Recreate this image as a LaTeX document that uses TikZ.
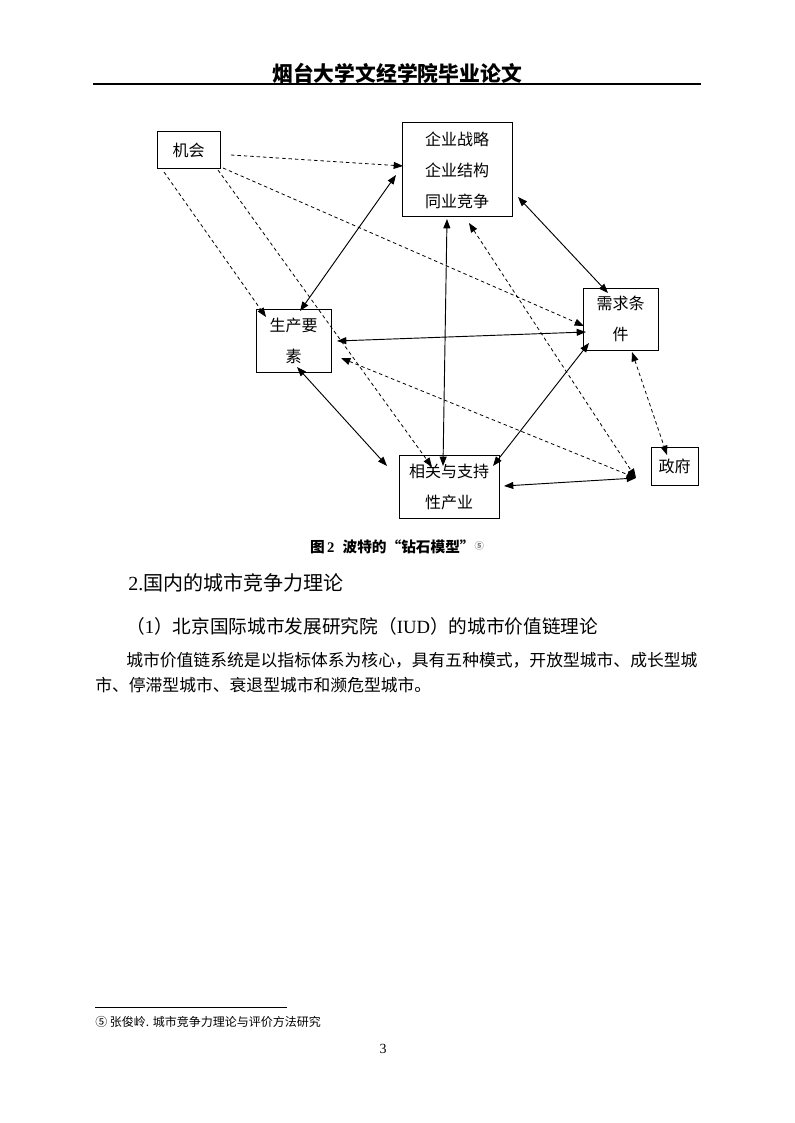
\documentclass[tikz,border=0pt]{standalone}
\usepackage{fontspec}
\setmainfont{Liberation Serif}
\newfontfamily\cjk{Noto Sans CJK SC}
\usetikzlibrary{arrows.meta,calc}
\tikzset{
  box/.style={draw, line width=0.75pt, inner sep=0pt, align=center,
    font=\cjk\fontsize{12pt}{23.25pt}\selectfont},
  tip/.tip={Triangle[length=7pt,width=5.2pt]},
  solidlink/.style={line width=0.7pt},
  dashlink/.style={line width=0.6pt, dash pattern=on 2.6pt off 2.2pt},
  txt/.style={inner sep=0pt, anchor=west},
}
\begin{document}
\begin{tikzpicture}[x=0.75pt,y=-0.75pt]
\useasboundingbox (0,0) rectangle (794,1123);
\fill[white] (0,0) rectangle (794,1123);

% header
\node[inner sep=0pt] (header) at (397,73) {\cjk\bfseries\fontsize{15.6pt}{18pt}\selectfont 烟台大学文经学院毕业论文};
\draw[line width=1pt] (93,84) -- (701,84);

% diagram boxes
\node[box, minimum width={63*0.75pt}, minimum height={37*0.75pt}] (jihui) at (188.5,150.5) {机会};
\node[box, minimum width={110*0.75pt}, minimum height={94*0.75pt}] (qiye) at (457,170) {企业战略\\企业结构\\同业竞争};
\node[box, minimum width={75*0.75pt}, minimum height={62*0.75pt}] (xuqiu) at (620.5,319) {需求条\\件};
\node[box, minimum width={75*0.75pt}, minimum height={63*0.75pt}] (shengchan) at (293.5,340.5) {生产要\\素};
\node[box, minimum width={100*0.75pt}, minimum height={63*0.75pt}] (xiangguan) at (449,486.5) {相关与支持\\性产业};
\node[box, minimum width={47*0.75pt}, minimum height={38*0.75pt}] (zhengfu) at (674.5,466) {政府};
\coordinate (G) at (636,478);

% dashed links from 机会
\draw[dashlink,-tip] ($(jihui)+(42.5,4.5)$) -- ($(qiye)+(-54,-4)$);
\draw[dashlink,-tip] ($(jihui)+(34.5,17.5)$) -- ($(xuqiu)+(-36.5,7)$);
\draw[dashlink,-tip] ($(jihui)+(-24.5,21.5)$) -- ($(shengchan)+(-27.5,-23.5)$);
\draw[dashlink,-tip] ($(jihui)+(29.5,19.5)$) -- ($(xiangguan)+(-17,-19.5)$);

% solid links
\draw[solidlink,tip-tip] ($(qiye)+(-61,5)$) -- ($(shengchan)+(6.5,-29.5)$);
\draw[solidlink,tip-tip] ($(xiangguan)+(-6,-20.5)$) -- ($(qiye)+(-10,49)$);
\draw[solidlink,tip-tip] ($(qiye)+(61,27)$) -- ($(xuqiu)+(-12.5,-26)$);
\draw[solidlink,tip-tip] ($(shengchan)+(43.5,0.5)$) -- ($(xuqiu)+(-34.5,13)$);
\draw[solidlink,tip-tip] ($(shengchan)+(3.5,26.5)$) -- ($(xiangguan)+(-62,-20.5)$);
\draw[solidlink,tip-tip] ($(xiangguan)+(44,-20.5)$) -- ($(xuqiu)+(-31.5,24)$);
\draw[solidlink,tip-tip] ($(xiangguan)+(55,-0.5)$) -- (G);

% dashed links with 政府
\draw[dashlink,tip-tip] ($(qiye)+(12,53)$) -- (G);
\draw[dashlink,tip-tip] ($(shengchan)+(47.5,17.5)$) -- (G);
\draw[dashlink,tip-tip] ($(xuqiu)+(11.5,33)$) -- ($(zhengfu)+(-7.5,-11)$);

% caption
\node[inner sep=0pt] (caption) at (397,547) {\bfseries\fontsize{11pt}{12pt}\selectfont{\cjk 图}\,2\;\;{\cjk 波特的“钻石模型”}\raisebox{0.4ex}{\color{gray}\cjk\fontsize{7pt}{8pt}\selectfont ⑤}};

% body text
\node[txt] (h2) at (128,583) {\fontsize{15pt}{18pt}\selectfont 2.{\cjk 国内的城市竞争力理论}};
\node[txt] (h3) at (126,626) {\fontsize{14pt}{17pt}\selectfont{\cjk （}1{\cjk ）北京国际城市发展研究院（}IUD{\cjk ）的城市价值链理论}};
\node[txt] (p1) at (126,660) {\cjk\fontsize{12.6pt}{15pt}\selectfont 城市价值链系统是以指标体系为核心，具有五种模式，开放型城市、成长型城};
\node[txt] (p2) at (95,685) {\cjk\fontsize{12.6pt}{15pt}\selectfont 市、停滞型城市、衰退型城市和濒危型城市。};

% footnote
\draw[line width=0.6pt] (95,1007) -- (287,1007);
\node[txt] (fn) at (95,1022) {\cjk\fontsize{9pt}{11pt}\selectfont ⑤ 张俊岭. 城市竞争力理论与评价方法研究};
\node[inner sep=0pt] (pagenum) at (383,1049) {\fontsize{10.5pt}{12pt}\selectfont 3};
\end{tikzpicture}
\end{document}
